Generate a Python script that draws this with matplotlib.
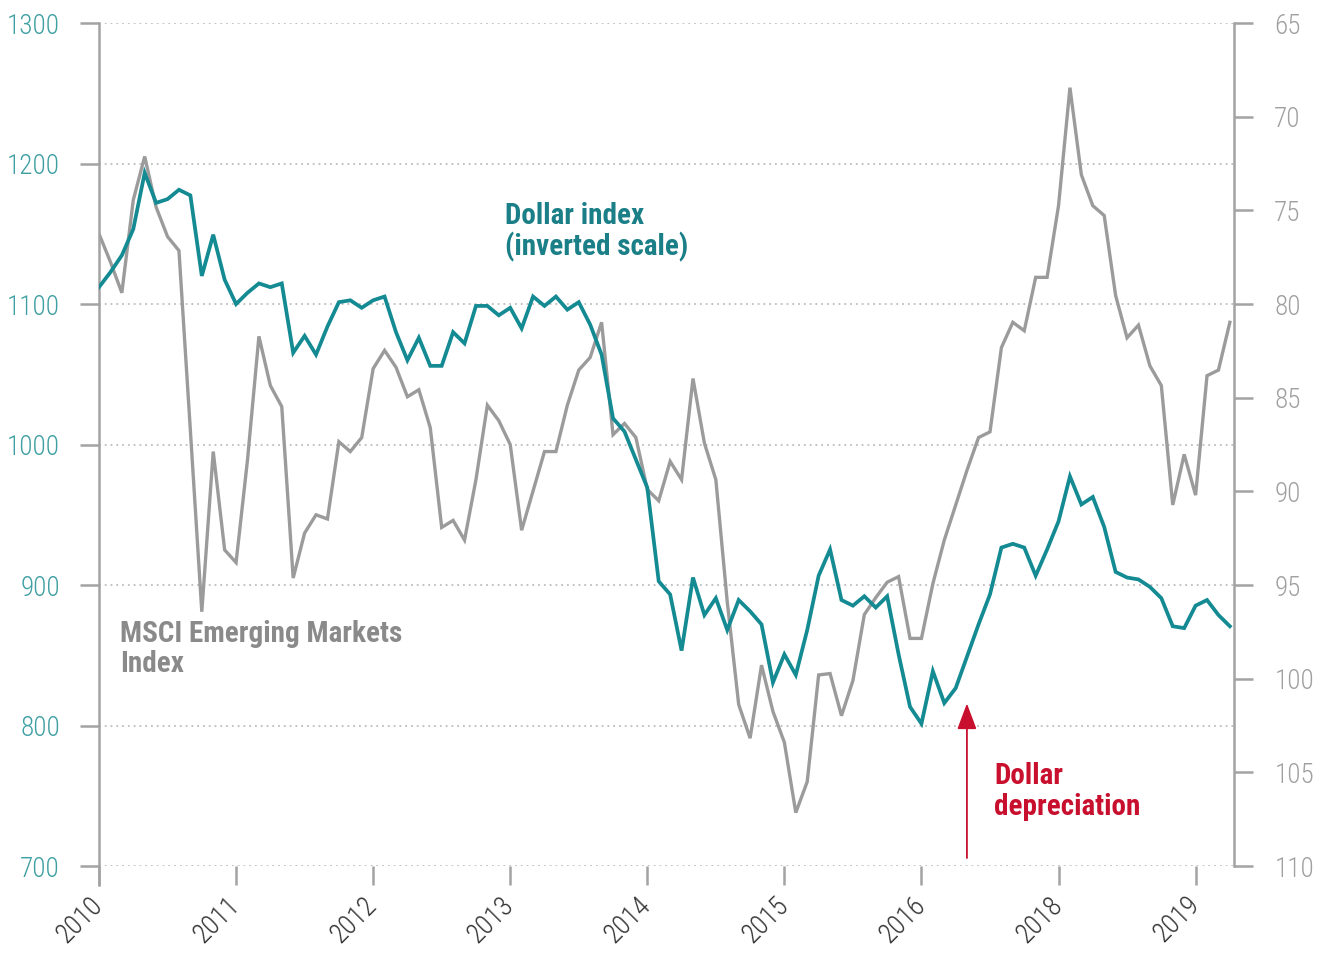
import numpy as np
import matplotlib.pyplot as plt
from matplotlib import font_manager as fm

# the reference uses a condensed face: take a narrow family that also has a bold cut
weights = {}
for f in fm.fontManager.ttflist:
    if 'Narrow' in f.name or 'Condensed' in f.name:
        w = f.weight if isinstance(f.weight, int) else fm.weight_dict.get(f.weight, 400)
        weights.setdefault(f.name, set()).add(w)
prefer = ['Liberation Sans Narrow', 'Roboto Condensed', 'Open Sans Condensed']
cands = [n for n in prefer if n in weights] + sorted(n for n in weights if n not in prefer)
bold_ok = [n for n in cands if max(weights[n]) >= 600 and min(weights[n]) <= 450]
if bold_ok:
    NARROW = bold_ok[0]
elif cands:
    NARROW = cands[0]
else:
    NARROW = 'Roboto'
plt.rcParams['font.family'] = [NARROW, 'DejaVu Sans']
TICK_FS, LABEL_FS = 19.5, 21
TICK_W = 'light' if NARROW in weights and min(weights[NARROW]) <= 300 else 'normal'

# monthly values, Jan 2010 onwards
msci = [1150, 1130, 1108, 1174, 1205, 1169, 1148, 1138, 1010, 881,
        995, 925, 916, 989, 1077, 1042, 1027, 905, 937, 950,
        947, 1002, 995, 1005, 1054, 1067, 1055, 1034, 1039, 1012,
        941, 946, 932, 975, 1028, 1017, 1000, 939, 967, 995,
        995, 1028, 1053, 1062, 1087, 1007, 1015, 1005, 968, 960,
        988, 975, 1047, 1001, 975, 888, 815, 791, 843, 810,
        788, 738, 760, 836, 837, 807, 832, 879, 891, 902,
        906, 862, 862, 901, 932, 957, 982, 1005, 1009, 1069,
        1087, 1081, 1119, 1119, 1170, 1254, 1192, 1170, 1163, 1106,
        1076, 1085, 1056, 1042, 957, 993, 964, 1049, 1053, 1087]

dollar = [79.1, 78.3, 77.4, 76.0, 73.0, 74.6, 74.4, 73.9, 74.2, 78.5,
          76.3, 78.7, 80.0, 79.4, 78.9, 79.1, 78.9, 82.6, 81.7, 82.7,
          81.2, 79.9, 79.8, 80.2, 79.8, 79.6, 81.5, 83.0, 81.8, 83.3,
          83.3, 81.5, 82.1, 80.1, 80.1, 80.6, 80.2, 81.3, 79.6, 80.1,
          79.6, 80.3, 79.9, 81.1, 82.7, 86.1, 86.8, 88.3, 89.8, 94.8,
          95.5, 98.5, 94.6, 96.6, 95.7, 97.4, 95.8, 96.4, 97.1, 100.2,
          98.7, 99.8, 97.4, 94.5, 93.1, 95.8, 96.1, 95.6, 96.2, 95.6,
          98.7, 101.5, 102.4, 99.6, 101.3, 100.5, 98.8, 97.1, 95.5, 93.0,
          92.8, 93.0, 94.5, 93.1, 91.6, 89.2, 90.7, 90.3, 91.9, 94.3,
          94.6, 94.7, 95.1, 95.7, 97.2, 97.3, 96.1, 95.8, 96.6, 97.2]

year_labels = ['2010', '2011', '2012', '2013', '2014', '2015', '2016', '2018', '2019']
left_ticks = [700, 800, 900, 1000, 1100, 1200, 1300]
right_ticks = [65, 70, 75, 80, 85, 90, 95, 100, 105, 110]

TEAL = '#148a93'
TEAL_TXT = '#1b7f87'
TEAL_TICK = '#3f9fa2'
GRAY = '#9b9b9b'
GRAY_TXT = '#8a8a8a'
AXIS_GRAY = '#a3a3a3'
RED = '#c8102e'

x = np.arange(len(msci)) / 12

fig = plt.figure(figsize=(13.27, 9.56), dpi=100)
ax = fig.add_axes([0.0746, 0.0941, 0.8553, 0.8818])
ax2 = ax.twinx()

ax.plot(x, msci, color=GRAY, lw=2.4, solid_joinstyle='miter')
ax2.plot(x, dollar, color=TEAL, lw=2.7, solid_joinstyle='miter')

ax.set_xlim(0, 8.28)
ax.set_ylim(700, 1300)
ax2.set_ylim(110, 65)

# left axis
ax.set_yticks(left_ticks)
ax.tick_params(axis='y', direction='out', length=14, width=1.8, color=AXIS_GRAY,
               labelcolor=TEAL_TICK, labelsize=TICK_FS, pad=14)
for t in ax.get_yticklabels():
    t.set_fontweight(TICK_W)
ax.set_xticks(range(len(year_labels)))
ax.set_xticklabels(year_labels, rotation=45, ha='right', va='center',
                   rotation_mode='anchor', color='#333333', fontsize=TICK_FS,
                   fontweight=TICK_W)
ax.tick_params(axis='x', direction='out', length=14, width=1.8, color=AXIS_GRAY, pad=11)
ax.grid(axis='y', linestyle=(0, (1, 2.2)), color='#bdbdbd', lw=1.3)

for s in ['top', 'right', 'bottom']:
    ax.spines[s].set_visible(False)
ax.spines['left'].set_color(AXIS_GRAY)
ax.spines['left'].set_linewidth(1.8)
ax.spines['left'].set_bounds(686.5, 1300)

# right axis (inverted dollar index)
ax2.set_yticks(right_ticks)
ax2.tick_params(axis='y', direction='out', length=14, width=1.8, color=AXIS_GRAY,
                labelcolor='#a0a0a0', labelsize=TICK_FS, pad=15)
for t in ax2.get_yticklabels():
    t.set_fontweight(TICK_W)
for s in ['top', 'left', 'bottom']:
    ax2.spines[s].set_visible(False)
ax2.spines['right'].set_color(AXIS_GRAY)
ax2.spines['right'].set_linewidth(1.8)

# labels
ax.text(0.358, 0.788, 'Dollar index\n(inverted scale)', transform=ax.transAxes,
        color=TEAL_TXT, fontsize=LABEL_FS, fontweight='bold', va='top', ha='left',
        linespacing=1.1)
ax.text(0.0185, 0.292, 'MSCI Emerging Markets\nIndex', transform=ax.transAxes,
        color=GRAY_TXT, fontsize=LABEL_FS, fontweight='bold', va='top', ha='left',
        linespacing=1.1)
ax.text(0.789, 0.123, 'Dollar\ndepreciation', transform=ax.transAxes,
        color=RED, fontsize=LABEL_FS, fontweight='bold', va='top', ha='left',
        linespacing=1.1)

ax.annotate('', xy=(0.7647, 0.1929), xytext=(0.7647, 0.0095),
            xycoords='axes fraction', textcoords='axes fraction',
            arrowprops=dict(arrowstyle='-|>,head_length=0.8,head_width=0.3',
                            color=RED, lw=1.3, mutation_scale=20,
                            shrinkA=0, shrinkB=0))

fig.savefig('out.png', dpi=100)
